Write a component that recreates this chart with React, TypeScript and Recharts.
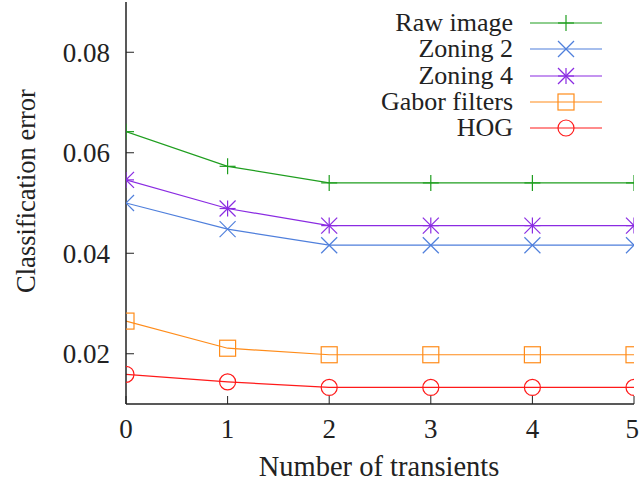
import { LineChart, Line, XAxis, YAxis, Legend, Label } from 'recharts'

const transients = [0, 1, 2, 3, 4, 5]
const rawImage = [0.0642, 0.0573, 0.054, 0.054, 0.054, 0.054]
const zoning2 = [0.05, 0.0448, 0.0416, 0.0416, 0.0416, 0.0416]
const zoning4 = [0.0546, 0.0489, 0.0455, 0.0455, 0.0455, 0.0455]
const gabor = [0.0265, 0.0211, 0.0198, 0.0198, 0.0198, 0.0198]
const hog = [0.0159, 0.0144, 0.0133, 0.0133, 0.0133, 0.0133]
const yTicks = [0.02, 0.04, 0.06, 0.08]

const data = transients.map((t, i) => ({
  t,
  raw: rawImage[i],
  z2: zoning2[i],
  z4: zoning4[i],
  gabor: gabor[i],
  hog: hog[i],
}))

const series = [
  { key: 'raw', name: 'Raw image', color: '#1f9e1f', shape: 'plus' },
  { key: 'z2', name: 'Zoning 2', color: '#4f7fdc', shape: 'cross' },
  { key: 'z4', name: 'Zoning 4', color: '#8a2be2', shape: 'star' },
  { key: 'gabor', name: 'Gabor filters', color: '#ff8c1a', shape: 'square' },
  { key: 'hog', name: 'HOG', color: '#ff1a1a', shape: 'circle' },
]

const FONT = '"Liberation Serif", serif'

const marker = (shape: string, cx: number, cy: number, color: string, key?: string) => {
  const s = 8
  const p = { stroke: color, strokeWidth: 1.2, fill: 'none' }
  if (shape === 'plus')
    return (
      <g key={key}>
        <line x1={cx - s} y1={cy} x2={cx + s} y2={cy} {...p} />
        <line x1={cx} y1={cy - s} x2={cx} y2={cy + s} {...p} />
      </g>
    )
  if (shape === 'cross')
    return (
      <g key={key}>
        <line x1={cx - s} y1={cy - s} x2={cx + s} y2={cy + s} {...p} />
        <line x1={cx - s} y1={cy + s} x2={cx + s} y2={cy - s} {...p} />
      </g>
    )
  if (shape === 'star')
    return (
      <g key={key}>
        <line x1={cx - s} y1={cy} x2={cx + s} y2={cy} {...p} />
        <line x1={cx} y1={cy - s} x2={cx} y2={cy + s} {...p} />
        <line x1={cx - s} y1={cy - s} x2={cx + s} y2={cy + s} {...p} />
        <line x1={cx - s} y1={cy + s} x2={cx + s} y2={cy - s} {...p} />
      </g>
    )
  if (shape === 'square')
    return <rect key={key} x={cx - s} y={cy - s} width={2 * s} height={2 * s} {...p} />
  return <circle key={key} cx={cx} cy={cy} r={s} {...p} />
}

const LegendBox = () => (
  <div style={{ fontFamily: FONT, fontSize: 26, color: '#222' }}>
    {series.map((s) => (
      <div key={s.key} style={{ display: 'flex', alignItems: 'center', height: 26.3 }}>
        <div style={{ width: 213, textAlign: 'right', lineHeight: '26px', whiteSpace: 'nowrap' }}>{s.name}</div>
        <svg width={90} height={26} style={{ marginLeft: 17 }}>
          <line x1={0} y1={13} x2={72} y2={13} stroke={s.color} strokeWidth={1.2} />
          {marker(s.shape, 36, 13, s.color)}
        </svg>
      </div>
    ))}
  </div>
)

const tickStyle = { fontSize: 27, fontFamily: FONT, fill: '#222' }
const axisLine = { stroke: '#222', strokeWidth: 1.5 }

export default function App() {
  return (
    <div style={{ position: 'absolute', left: 0, top: 0 }}>
      <LineChart width={639} height={483} data={data} margin={{ top: 2, right: 5, left: 0, bottom: 0 }}>
        <XAxis
          dataKey='t'
          type='number'
          domain={[0, 5]}
          ticks={transients}
          allowDataOverflow
          height={79}
          tickSize={-8}
          tickMargin={23}
          tick={tickStyle}
          axisLine={axisLine}
          tickLine={{ stroke: '#222' }}
        >
          <Label
            content={({ viewBox }: any) => (
              <text x={379} y={viewBox.y + 72} textAnchor='middle' style={{ ...tickStyle, fontSize: 28.5 }}>
                Number of transients
              </text>
            )}
          />
        </XAxis>
        <XAxis
          xAxisId='top'
          orientation='top'
          dataKey='t'
          type='number'
          domain={[0, 5]}
          ticks={transients}
          height={0}
          tickSize={-8}
          tick={() => <g />}
          axisLine={axisLine}
          tickLine={{ stroke: '#222' }}
        />
        <YAxis
          type='number'
          domain={[0.01, 0.09]}
          ticks={yTicks}
          allowDataOverflow
          width={126}
          tickSize={-8}
          tickMargin={24}
          tick={tickStyle}
          axisLine={axisLine}
          tickLine={{ stroke: '#222' }}
        >
          <Label
            content={() => {
              const x = 35
              const y = 191
              return (
                <text x={x} y={y} textAnchor='middle' transform={`rotate(-90 ${x} ${y})`} style={{ ...tickStyle, fontSize: 26.5 }}>
                  Classification error
                </text>
              )
            }}
          />
        </YAxis>
        <YAxis
          yAxisId='right'
          orientation='right'
          type='number'
          domain={[0.01, 0.09]}
          ticks={yTicks}
          width={0}
          tickSize={-8}
          tick={() => <g />}
          axisLine={axisLine}
          tickLine={{ stroke: '#222' }}
        />
        <Legend
          layout='vertical'
          align='center'
          verticalAlign='middle'
          wrapperStyle={{ left: 300, top: 10, width: 330 }}
          content={() => <LegendBox />}
        />
        {series.map((s) => (
          <Line
            key={s.key}
            dataKey={s.key}
            name={s.name}
            type='linear'
            stroke={s.color}
            strokeWidth={1.2}
            isAnimationActive={false}
            dot={(props: any) => marker(s.shape, props.cx, props.cy, s.color, `${s.key}-${props.index}`)}
            activeDot={false}
          />
        ))}
      </LineChart>
    </div>
  )
}
